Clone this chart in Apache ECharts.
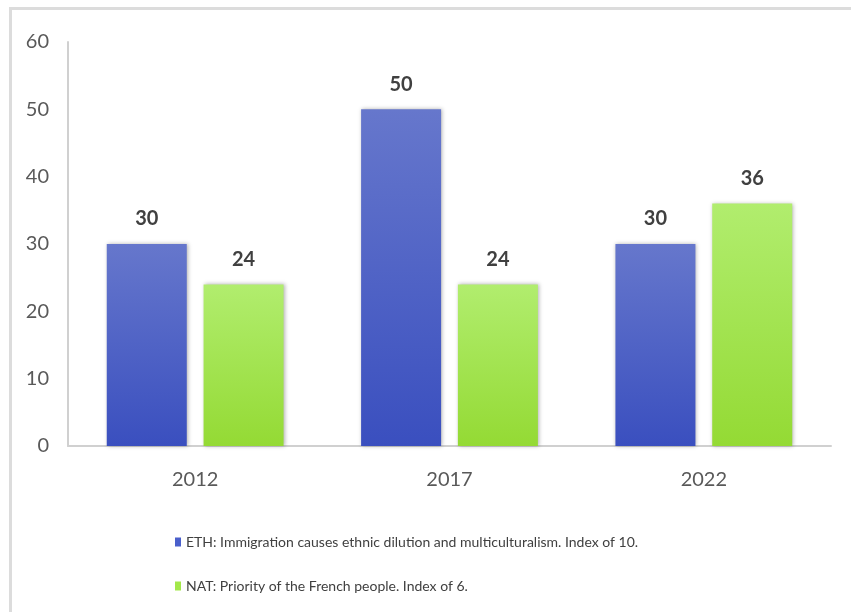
<!DOCTYPE html>
<html>
<head>
<meta charset="utf-8">
<script src="https://cdn.jsdelivr.net/npm/echarts@6/dist/echarts.min.js"></script>
<style>
  html, body { margin: 0; padding: 0; background: #fff; }
  #chart { width: 851px; height: 612px; }
</style>
</head>
<body>
<div id="chart"></div>
<script>
// Election years and index values for the two survey items
const years = ['2012', '2017', '2022'];
const ethValues = [30, 50, 30];
const natValues = [24, 24, 36];
const ethName = 'ETH: Immigration causes ethnic dilution and multiculturalism. Index of 10.';
const natName = 'NAT: Priority of the French people. Index of 6.';
const yTicks = { min: 0, max: 60, interval: 10 };

const FONT = 'Lato, "Open Sans", sans-serif';

function vGrad(top, bottom) {
  return new echarts.graphic.LinearGradient(0, 0, 0, 1, [
    { offset: 0, color: top },
    { offset: 1, color: bottom }
  ]);
}

const labelStyle = {
  show: true,
  position: 'top',
  distance: 15,
  fontFamily: FONT,
  fontWeight: 'bold',
  fontSize: 20,
  color: '#404040'
};

const chart = echarts.init(document.getElementById('chart'), null, { renderer: 'canvas' });
chart.setOption({
  backgroundColor: '#fff',
  animation: false,
  // light frame along the top and left edges
  graphic: [
    { type: 'line', shape: { x1: 10, y1: 8.5, x2: 851, y2: 8.5 }, style: { stroke: '#dcdcdc', lineWidth: 3 } },
    { type: 'line', shape: { x1: 10.5, y1: 7, x2: 10.5, y2: 612 }, style: { stroke: '#dcdcdc', lineWidth: 3 } }
  ],
  grid: { left: 68, right: 20, top: 42, bottom: 166, containLabel: false },
  legend: {
    orient: 'vertical',
    left: 170,
    top: 530,
    itemGap: 30,
    itemWidth: 6,
    itemHeight: 9,
    icon: 'rect',
    textStyle: { fontFamily: FONT, fontSize: 14, color: '#404040' },
    data: [
      { name: ethName, itemStyle: { color: '#4a5fcb' } },
      { name: natName, itemStyle: { color: '#a3e84a' } }
    ]
  },
  xAxis: {
    type: 'category',
    data: years,
    axisLine: { lineStyle: { color: '#d0d0d0', width: 2 } },
    axisTick: { show: false },
    axisLabel: { fontFamily: FONT, fontSize: 20, color: '#595959', margin: 24 }
  },
  yAxis: {
    type: 'value',
    min: yTicks.min,
    max: yTicks.max,
    interval: yTicks.interval,
    splitLine: { show: false },
    axisLine: { show: true, lineStyle: { color: '#d0d0d0', width: 2 } },
    axisTick: { show: false },
    axisLabel: { fontFamily: FONT, fontSize: 20, color: '#595959', margin: 19 }
  },
  series: [
    {
      name: ethName,
      type: 'bar',
      data: ethValues,
      barWidth: 80,
      barGap: '21%',
      itemStyle: {
        color: vGrad('#6677cc', '#3a4fbf'),
        shadowBlur: 4,
        shadowColor: 'rgba(0,0,0,0.3)',
        shadowOffsetX: 1
      },
      label: labelStyle
    },
    {
      name: natName,
      type: 'bar',
      data: natValues,
      barWidth: 80,
      itemStyle: {
        color: vGrad('#b1ed6e', '#94da34'),
        shadowBlur: 4,
        shadowColor: 'rgba(0,0,0,0.3)',
        shadowOffsetX: 1
      },
      label: labelStyle
    }
  ]
});
</script>
</body>
</html>
